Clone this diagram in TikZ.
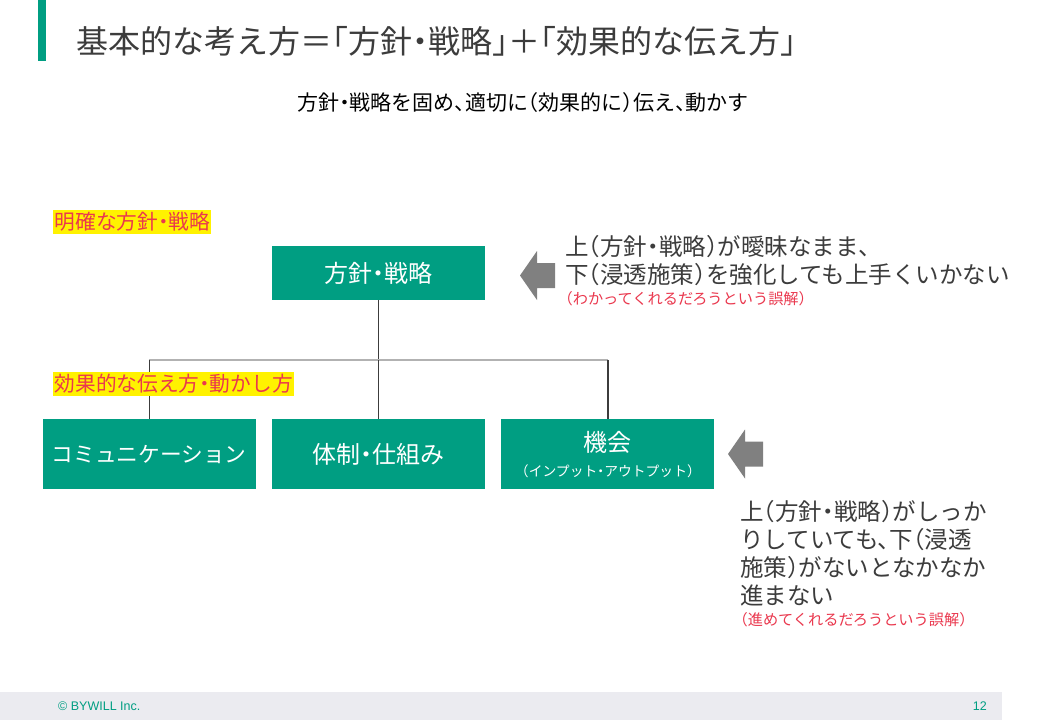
\documentclass[tikz,border=0pt]{standalone}
\usepackage{fontspec}
\setmainfont{Noto Sans CJK JP}[RawFeature=+halt]
\newfontfamily\footfont{Liberation Sans}
\usetikzlibrary{positioning}
\usepackage{xcolor}
\definecolor{bwteal}{RGB}{0,158,130}
\definecolor{bwtext}{RGB}{60,60,60}
\definecolor{bwred}{RGB}{234,56,78}
\definecolor{bwgray}{RGB}{128,128,128}
\definecolor{bwfoot}{RGB}{235,235,240}
\tikzstyle{box} = [rectangle, minimum width=213pt, minimum height=70pt, fill=bwteal,
    text=white, align=center, inner sep=0pt, font=\fontsize{24}{28}\selectfont]
\tikzstyle{hilite} = [fill=yellow, text=bwred, inner xsep=1.5pt, inner ysep=0pt,
    minimum height=24pt, anchor=west, font=\fontsize{20.7}{24}\selectfont]
\tikzstyle{note} = [anchor=west, align=left, inner sep=0pt, text=bwtext,
    font=\fontsize{23.5}{28}\selectfont]
\tikzstyle{notered} = [anchor=west, inner sep=0pt, text=bwred, font=\fontsize{15.2}{17}\selectfont]
\tikzstyle{vline} = [line width=1.2pt, draw=bwtext]
\tikzstyle{hline} = [line width=1.5pt, draw=black!30]
\tikzstyle{bigarrow} = [fill=bwgray]
\newcommand{\leftarrowat}[1]{% tip of a big grey arrow pointing left
  \fill[bigarrow] (#1) -- ++(17,-24.5) -- ++(0,12) -- ++(18,0) -- ++(0,25)
    -- ++(-18,0) -- ++(0,12) -- cycle;}

\begin{document}
\begin{tikzpicture}[x=1pt, y=-1pt, node distance=16pt and 16pt]
\useasboundingbox (0,0) rectangle (1040,720);
\fill[white] (0,0) rectangle (1040,720);
% header
\fill[bwteal] (38,0) rectangle (46,61);
\node (title) [anchor=west, inner sep=0pt, text=bwtext, font=\fontsize{32}{36}\selectfont]
    at (76,41) {基本的な考え方＝「方針・戦略」＋「効果的な伝え方」};
\node (lead) [inner sep=0pt, text=black, font=\fontsize{21}{24}\selectfont]
    at (523,103) {方針・戦略を固め、適切に（効果的に）伝え、動かす};

% tree
\node (policy) [box, minimum height=54pt] at (378.5,273) {方針・戦略};
\node (system) [box, below=119pt of policy] {体制・仕組み};
\node (comm) [box, left=of system, font=\fontsize{21.7}{26}\selectfont] {コミュニケーション};
\node (chance) [box, right=of system] {機会\\[-3pt]{\fontsize{13.8}{16}\selectfont （インプット・アウトプット）}};
\coordinate (junction) at (policy.south |- 0,360);

\draw[vline] (policy.south) -- (junction);
\draw[hline] (comm.north |- junction) -- (chance.north |- junction);
\draw[vline] (comm.north |- junction) -- (comm.north);
\draw[vline] (junction) -- (system.north);
\draw[vline] (chance.north |- junction) -- (chance.north);

% labels
\node (clear) [hilite] at (53,222) {明確な方針・戦略};
\node (effect) [hilite] at (53,384) {効果的な伝え方・動かし方};

% notes
\leftarrowat{520,275.5}
\node (vague) [note] at (565,261) {上（方針・戦略）が曖昧なまま、\\下（浸透施策）を強化しても上手くいかない};
\node (vaguered) [notered] at (565,299) {（わかってくれるだろうという誤解）};
\leftarrowat{728,454}
\node (weak) [note] at (740,553) {上（方針・戦略）がしっか\\りしていても、下（浸透\\施策）がないとなかなか\\進まない};
\node (weakred) [notered] at (740,620) {（進めてくれるだろうという誤解）};

% footer
\fill[bwfoot] (0,692) rectangle (1002,720);
\node (copy) [anchor=west, inner sep=0pt, text=bwteal, font=\footfont\fontsize{12.5}{14}\selectfont]
    at (58,706) {© BYWILL Inc.};
\node (page) [anchor=east, inner sep=0pt, text=bwteal, font=\footfont\fontsize{12.5}{14}\selectfont]
    at (987,706) {12};
\end{tikzpicture}
\end{document}
